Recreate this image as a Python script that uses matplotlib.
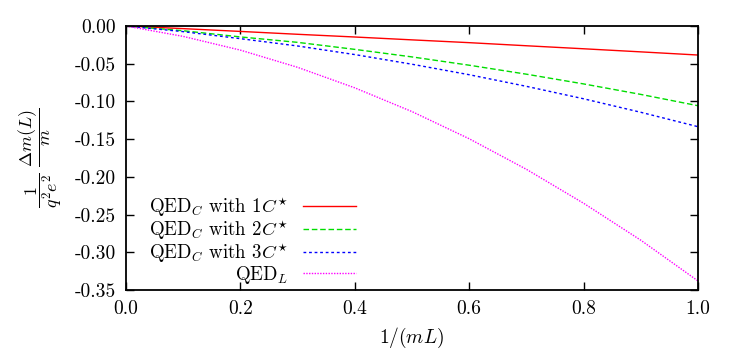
import matplotlib
matplotlib.use("Agg")
import matplotlib.pyplot as plt

plt.rcParams["font.family"] = ["cmr10", "DejaVu Serif"]
plt.rcParams["mathtext.fontset"] = "cm"
plt.rcParams["axes.formatter.use_mathtext"] = True
plt.rcParams["axes.unicode_minus"] = False

# 1/(mL)
x = [0.0, 0.1, 0.2, 0.3, 0.4, 0.5, 0.6, 0.7, 0.8, 0.9, 1.0]
# finite-volume mass shift
qedc_1 = [0.0, -0.0035, -0.0072, -0.0110, -0.0146, -0.0184, -0.0221, -0.0262, -0.0302, -0.0343, -0.0385]
qedc_2 = [0.0, -0.0063, -0.0145, -0.0217, -0.0310, -0.0410, -0.0520, -0.0639, -0.0768, -0.0907, -0.1057]
qedc_3 = [0.0, -0.0075, -0.0168, -0.0265, -0.0379, -0.0507, -0.0646, -0.0800, -0.0965, -0.1144, -0.1335]
qedl = [0.0, -0.0138, -0.0320, -0.0548, -0.0820, -0.1135, -0.1495, -0.1900, -0.2350, -0.2840, -0.3380]

labels = [r"QED$_C$ with 1$C^{\!\star}$", r"QED$_C$ with 2$C^{\!\star}$",
          r"QED$_C$ with 3$C^{\!\star}$", r"QED$_L$"]
xticks = [0.0, 0.2, 0.4, 0.6, 0.8, 1.0]
yticks = [0.0, -0.05, -0.10, -0.15, -0.20, -0.25, -0.30, -0.35]

fig = plt.figure(figsize=(7.47, 3.63), dpi=100)
ax = fig.add_axes([0.1687, 0.2011, 0.7657, 0.7273])

ax.plot(x, qedc_1, color="#ff0000", lw=1.0, ls="-", label=labels[0])
ax.plot(x, qedc_2, color="#00dd00", lw=1.0, ls=(0, (4, 2)), label=labels[1])
ax.plot(x, qedc_3, color="#0000ff", lw=1.0, ls=(0, (2, 2)), label=labels[2])
ax.plot(x, qedl, color="#ff00ff", lw=1.0, ls=(0, (1, 1)), label=labels[3])

ax.set_xlim(0, 1)
ax.set_ylim(-0.35, 0.0)
ax.set_xticks(xticks)
ax.set_xticklabels([f"{t:.1f}" for t in xticks])
ax.set_yticks(yticks)
ax.set_yticklabels([f"{t:.2f}".replace("-0.00", "0.00") for t in yticks])
ax.tick_params(direction="in", length=6, width=1.0, top=True, right=True,
               labelsize=14, pad=7)
for s in ax.spines.values():
    s.set_linewidth(1.3)

ax.set_xlabel(r"$1/(mL)$", fontsize=14, labelpad=6)
ax.set_ylabel(r"$\dfrac{1}{q^2e^2}\ \dfrac{\Delta m(L)}{m}$", fontsize=13, labelpad=8)

leg = ax.legend(loc="lower right", bbox_to_anchor=(0.425, -0.035), frameon=False,
                markerfirst=False, fontsize=13.6, handlelength=2.8,
                handletextpad=0.8, labelspacing=-0.04, borderpad=0.2)
for vp in leg._legend_handle_box.get_children():
    vp.align = "right"

fig.savefig("out.png", dpi=100)
